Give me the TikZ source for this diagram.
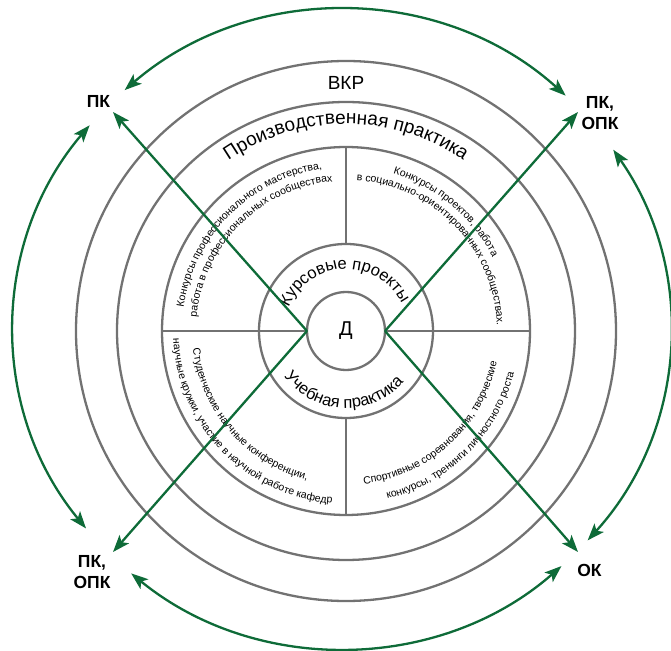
\documentclass[tikz,border=0pt]{standalone}
\usepackage{fontspec}
\setmainfont{Liberation Sans}
\usetikzlibrary{decorations.text,arrows.meta,calc}
\definecolor{ringgray}{HTML}{727272}
\definecolor{arrowgreen}{HTML}{0E6B38}
\newcommand\qfont{\fontsize{10.5}{12}\selectfont}
\newcommand\mfont{\fontsize{16.5}{19}\selectfont}
\newcommand\bfontsz{\fontsize{19}{22}\selectfont}
\begin{document}
\begin{tikzpicture}[x=1pt,y=1pt,
  ring/.style={draw=ringgray, line width=2.3pt},
  gtip/.tip={Stealth[length=17pt,width=12.5pt,inset=4pt]},
  garrow/.style={draw=arrowgreen, line width=2.3pt, -gtip},
  gdouble/.style={draw=arrowgreen, line width=2.3pt, gtip-gtip},
  lbl/.style={font=\bfseries\fontsize{17.5}{21}\selectfont, align=center, inner sep=0pt},
  arctext/.style={decorate, decoration={text along path, text align=center, text={#1}}}
  ]
\useasboundingbox (-346,-319) rectangle (325,331);

% rings
\draw[ring] (0,0) circle[radius=270];
\draw[ring] (0,0) circle[radius=229];
\draw[ring] (0,0) circle[radius=184];
\draw[ring] (0,0) circle[radius=87];
\node[ring, circle, minimum size=78pt, inner sep=0pt, outer sep=0pt,
      font=\fontsize{20}{24}\selectfont] (D) at (0,0) {Д};

% dividers
\draw[ring] (D.west) -- (-184,0);
\draw[ring] (D.east) -- (184,0);
\draw[ring] (0,87) -- (0,184);
\draw[ring] (0,-87) -- (0,-184);

% ring texts
\node[anchor=base, font=\bfontsz, inner sep=0pt] (vkr) at (0,241) {ВКР};
\path[arctext={|\bfontsz|Производственная практика}]
  (150:207) arc[start angle=150, end angle=30, radius=207];
\path[arctext={|\mfont|Курсовые проекты}]
  (182:62) arc[start angle=182, end angle=2, radius=62];
\path[arctext={|\mfont|Учебная практика}]
  (192.5:77) arc[start angle=192.5, end angle=342.5, radius=77];

% quadrant texts
\path[arctext={|\qfont|Конкурсы профессионального мастерства,}]
  (190:164) arc[start angle=190, end angle=80, radius=164];
\path[arctext={|\qfont|работа в профессиональных сообществах}]
  (190:150) arc[start angle=190, end angle=80, radius=150];
\path[arctext={|\qfont|Конкурсы проектов, работа}]
  (105:164) arc[start angle=105, end angle=-5, radius=164];
\path[arctext={|\qfont|в социально-ориентированных сообществах.}]
  (99:151) arc[start angle=99, end angle=-11, radius=151];
\path[arctext={|\qfont|Студенческие научные конференции,}]
  (166:154) arc[start angle=166, end angle=276, radius=154];
\path[arctext={|\qfont|научные кружки, участие в научной работе кафедр}]
  (169:173) arc[start angle=169, end angle=279, radius=173];
\path[arctext={|\qfont|Спортивные соревнования, творческие}]
  (257.5:154) arc[start angle=257.5, end angle=367.5, radius=154];
\path[arctext={|\qfont|конкурсы, тренинги личностного роста}]
  (260:173) arc[start angle=260, end angle=370, radius=173];

% labels
\node[lbl] (pk) at (-247.5,229.5) {ПК};
\node[lbl] (pkopkA) at (254,218) {ПК,\\ОПК};
\node[lbl] (pkopkB) at (-254,-241) {ПК,\\ОПК};
\node[lbl] (ok) at (243.5,-239) {ОК};

% diagonal arrows
\coordinate (tNW) at (-233,219);
\coordinate (tNE) at (232,219);
\coordinate (tSW) at (-233,-221);
\coordinate (tSE) at (232,-221);
\draw[garrow] (D.west) -- (tNW);
\draw[garrow] (D.east) -- (tNE);
\draw[garrow] (D.west) -- (tSW);
\draw[garrow] (D.east) -- (tSE);

% outer double arrows
\coordinate (oc) at (-4,2);
\coordinate (aTop) at ($(oc)+(131.5:328pt and 319pt)$);
\coordinate (aLeft) at ($(oc)+(140.3:328pt and 319pt)$);
\coordinate (aBot) at ($(oc)+(230:328pt and 319pt)$);
\coordinate (aRight) at ($(oc)+(-41.5:328pt and 319pt)$);
\draw[gdouble] (aTop) arc[start angle=131.5, end angle=47, x radius=328, y radius=319];
\draw[gdouble] (aLeft) arc[start angle=140.3, end angle=218.7, x radius=328, y radius=319];
\draw[gdouble] (aBot) arc[start angle=230, end angle=312, x radius=328, y radius=319];
\draw[gdouble] (aRight) arc[start angle=-41.5, end angle=34.2, x radius=328, y radius=319];
\end{tikzpicture}
\end{document}
